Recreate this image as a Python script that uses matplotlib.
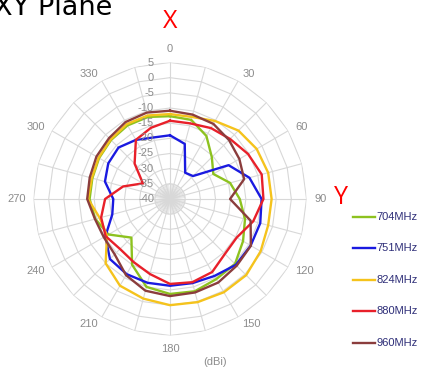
import numpy as np
import matplotlib.pyplot as plt
import matplotlib.transforms as mtransforms
from matplotlib.lines import Line2D

# figure size in pixels
fig_w, fig_h, fig_dpi = 423, 374, 100

# measured gain (dBi) every 15 degrees, 0 = top, clockwise
angles_deg = np.arange(0, 360, 15)
freq_names = ['704MHz', '751MHz', '824MHz', '880MHz', '960MHz']
line_colors = ['#8dc21f', '#1a1ae0', '#f5c31c', '#e8202a', '#8b3d3d']

gain_704 = [-12.7, -13.0, -16.0, -20.5, -23.5, -19.5, -17.0, -14.4, -12.2, -9.7, -9.5, -8.5,
            -8.7, -10.0, -15.0, -22.0, -16.6, -14.5, -13.5, -13.5, -13.0, -12.5, -12.0, -12.0]
gain_751 = [-19.0, -21.2, -30.0, -29.3, -17.7, -12.9, -9.8, -9.2, -9.3, -9.3, -10.7, -11.3,
            -11.4, -11.4, -11.4, -12.0, -15.4, -20.3, -21.3, -17.8, -16.5, -16.0, -17.5, -19.0]
gain_824 = [-12.0, -12.0, -10.3, -8.1, -7.0, -6.5, -6.5, -6.5, -5.5, -4.5, -4.5, -4.8,
            -5.0, -6.0, -7.0, -10.0, -16.0, -16.0, -13.0, -13.3, -12.8, -12.3, -11.5, -11.5]
gain_880 = [-14.2, -14.2, -13.0, -12.0, -10.3, -8.7, -9.2, -11.6, -14.6, -14.4, -12.2, -11.6,
            -12.0, -14.4, -16.0, -16.7, -15.5, -16.5, -18.6, -24.0, -29.7, -23.5, -17.5, -15.7]
gain_960 = [-10.9, -11.2, -11.4, -12.5, -13.6, -14.7, -20.2, -12.5, -9.2, -8.9, -8.2, -8.1,
            -8.0, -8.7, -11.0, -14.2, -14.8, -14.4, -12.7, -12.6, -12.0, -11.6, -10.7, -10.5]
all_gains = [gain_704, gain_751, gain_824, gain_880, gain_960]

r_min, r_max = -40, 5
ring_values = list(range(-35, 10, 5))
radial_labels = list(range(-40, 10, 5))
angle_labels = list(range(0, 360, 30))

grid_col = '#d8d8d8'
label_col = '#8c8c8c'

fig = plt.figure(figsize=(fig_w / fig_dpi, fig_h / fig_dpi), dpi=fig_dpi)

# polar axes: centre (170, 199) px, outer radius 136.5 px
cx, cy, R = 170, 199, 136.5
ax = fig.add_axes([(cx - R) / fig_w, (fig_h - cy - R) / fig_h, 2 * R / fig_w, 2 * R / fig_h],
                  projection='polar')
ax.set_theta_zero_location('N')
ax.set_theta_direction(-1)
ax.set_ylim(r_min, r_max)
ax.grid(False)
ax.set_xticks([])
ax.set_yticks([])
ax.spines['polar'].set_visible(False)

theta = np.deg2rad(angles_deg)
theta_closed = np.append(theta, theta[0])

# spider-web grid
for v in ring_values:
    ax.plot(theta_closed, [v] * len(theta_closed), color=grid_col, lw=0.8, zorder=1)
for t in theta:
    ax.plot([t, t], [r_min, r_max], color=grid_col, lw=0.8, zorder=1)
for t in np.deg2rad(np.arange(0, 360, 5)):
    ax.plot([t, t], [r_min, -35], color=grid_col, lw=0.5, zorder=1)

# data
for gains, color in zip(all_gains, line_colors):
    ax.plot(theta_closed, np.append(gains, gains[0]), color=color, lw=1.7, zorder=3)

# angle labels outside the web
px = 72 / fig_dpi
for a in angle_labels:
    s, c = np.sin(np.deg2rad(a)), np.cos(np.deg2rad(a))
    ha = 'left' if s > 0.1 else ('right' if s < -0.1 else 'center')
    va = 'bottom' if c > 0.9 else ('top' if c < -0.9 else 'center')
    tr = mtransforms.offset_copy(ax.transData, fig=fig, x=8 * s * px, y=8 * c * px, units='points')
    ax.text(np.deg2rad(a), r_max, str(a), transform=tr, ha=ha, va=va,
            fontsize=8, color=label_col, family='Liberation Sans')

# radial labels along the 0 degree spoke
tr = mtransforms.offset_copy(ax.transData, fig=fig, x=-16 * px, y=0, units='points')
for v in radial_labels:
    ax.text(0, v, str(v), transform=tr, ha='right', va='center',
            fontsize=8, color=label_col, family='Liberation Sans')

fig.text(215 / fig_w, 1 - 362 / fig_h, '(dBi)', ha='center', va='center',
         fontsize=8, color=label_col, family='Liberation Sans')

# title (cut off at the top-left like the screenshot)
fig.text(-6 / fig_w, 1 - 15 / fig_h, 'XY Plane', ha='left', va='baseline',
         fontsize=19.5, color='black', family='DejaVu Sans')

# axis markers
fig.text(170 / fig_w, 1 - 22 / fig_h, 'X', ha='center', va='center',
         fontsize=18, color='red', family='Open Sans')
fig.text(341 / fig_w, 1 - 198 / fig_h, 'Y', ha='center', va='center',
         fontsize=18, color='red', family='Open Sans')

# legend
for i, (name, color) in enumerate(zip(freq_names, line_colors)):
    y = 1 - (216.7 + i * 31.5) / fig_h
    fig.add_artist(Line2D([353 / fig_w, 375 / fig_w], [y, y], color=color, lw=1.7))
    fig.text(376 / fig_w, y, name, ha='left', va='center', fontsize=8,
             color='#2e2e78', family='Liberation Sans')

plt.savefig('out.png', dpi=fig_dpi)
plt.close()
